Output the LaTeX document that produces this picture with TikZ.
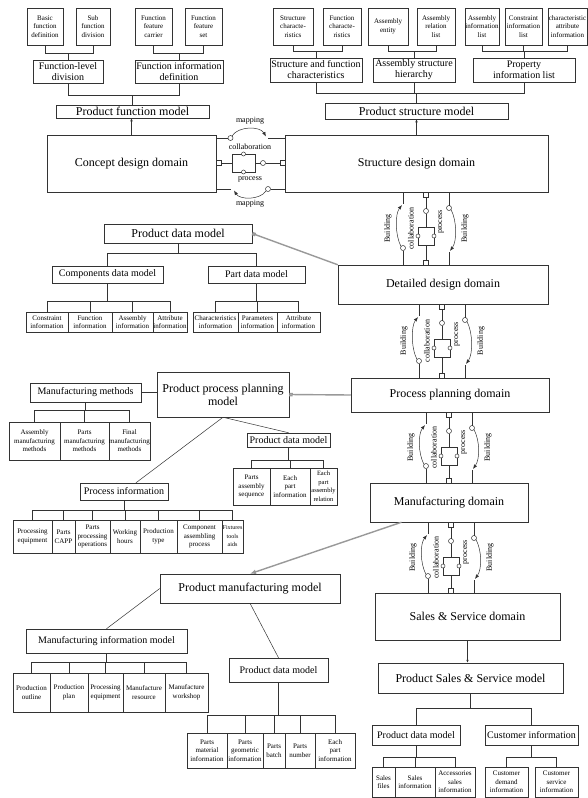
\documentclass[tikz,border=0pt]{standalone}
\usepackage{fontspec}
\setmainfont{Liberation Serif}
\usetikzlibrary{arrows.meta,calc}
\newcommand{\myfs}[2]{\fontsize{#1}{#2}\selectfont}
\tikzset{
 wire/.style={draw=black!80, line width=0.5pt},
 gline/.style={draw=black!40, line width=1.4pt},
 box/.style={draw=black!80, line width=0.5pt, inner sep=0pt, align=center, fill=white},
 leaf/.style={box, font=\myfs{7}{8}},
 leafc/.style={box, font=\myfs{7}{8.5}},
 mid/.style={box, font=\myfs{10}{11}},
 big/.style={box, font=\myfs{12}{13}},
 lbl/.style={inner sep=0pt, font=\myfs{8}{8}},
 tipa/.style={-{Latex[length=4.5pt,width=3.5pt]}},
}
\newcommand{\bx}[7][]{\node[box,#1,minimum width={(#5)-(#3)},minimum height={(#6)-(#4)}] (#2) at ({((#3)+(#5))/2},{((#4)+(#6))/2}) {#7};}
\newcommand{\mytr}[3]{\draw[wire] (#1.south) -- ++(0,#2) -| (#3.north);}
\newcommand{\vlink}[4]{%
 \pgfmathsetmacro{\lkL}{#1-23}%
 \pgfmathsetmacro{\lkR}{#1+23}%
 \pgfmathsetmacro{\lkM}{(#2+#3)/2}%
 \draw[wire] (\lkL,#2) -- (\lkL,{#2+12});
 \draw[wire] (\lkL,#3) -- (\lkL,{#3-14.5});
 \draw[wire] (\lkL,{#3-17}) circle[radius=2.5];
 \draw[wire,tipa] ({\lkL-2},{#3-18.5}) .. controls ({\lkL-8},{#3-30}) and ({\lkL-8},{#2+22}) .. ({\lkL-1},{#2+13});
 \draw[wire] (\lkR,#2) -- (\lkR,{#2+13.5});
 \draw[wire] (\lkR,{#2+16}) circle[radius=2.5];
 \draw[wire,tipa] ({\lkR+2},{#2+17.5}) .. controls ({\lkR+8},{#2+29}) and ({\lkR+8},{#3-24}) .. ({\lkR+1},{#3-14});
 \draw[wire] (\lkR,#3) -- (\lkR,{#3-13});
 \draw[wire] (#1,{#2+5}) -- (#1,{#2+16.5});
 \draw[wire] (#1,{#2+21.5}) -- (#1,{#2+35});
 \draw[wire] (#1,{#2+53}) -- (#1,{#3-5});
 \draw[wire,fill=white] ({#1-2.5},#2) rectangle ({#1+2.5},{#2+5});
 \draw[wire] (#1,{#2+19}) circle[radius=2.5];
 \draw[wire,fill=white] ({#1-8},{#2+35}) rectangle ({#1+8},{#2+53});
 \draw[wire,fill=white] ({#1-8},{#2+44}) circle[radius=2];
 \draw[wire,fill=white] ({#1+8},{#2+44}) circle[radius=2];
 \draw[wire,fill=white] ({#1-2.5},{#3-5}) rectangle ({#1+2.5},#3);
 \node[lbl,rotate=90] (#4b1) at ({\lkL-15},\lkM) {Building};
 \node[lbl,rotate=90] (#4co) at ({#1-15},\lkM) {collaboration};
 \node[lbl,rotate=90] (#4pr) at ({#1+15},{#2+30}) {process};
 \node[lbl,rotate=90] (#4b2) at ({\lkR+16},\lkM) {Building};
}
\begin{document}
\begin{tikzpicture}[x=1pt,y=-1pt]
\fill[white] (0,0) rectangle (588,798);
\useasboundingbox (0,0) rectangle (588,798);
% ---------- top left
\bx[leafc]{bfd}{27}{8}{63}{45}{Basic\\function\\definition}
\bx[leafc]{sfd}{76}{8}{110}{45}{Sub\\function\\division}
\bx[leafc]{ffc}{135}{8}{172}{45}{Function\\feature\\carrier}
\bx[leafc]{ffs}{185}{8}{222}{45}{Function\\feature\\set}
\bx[mid]{fld}{33}{60}{103}{83}{Function-level\\division}
\bx[mid]{fid}{135}{60}{223}{83}{Function information\\definition}
\bx[big]{pfm}{56}{105}{209}{118}{Product function model}
% ---------- top right
\bx[leafc]{sca}{273}{8}{313}{45}{Structure\\characte-\\ristics}
\bx[leafc]{fca}{323}{8}{361}{45}{Function\\characte-\\ristics}
\bx[leafc]{aen}{368}{8}{408}{45}{Assembly\\entity}
\bx[leafc]{arl}{417}{8}{455}{45}{Assembly\\relation\\list}
\bx[leafc]{ail}{465}{8}{499}{45}{Assembly\\information\\list}
\bx[leafc]{cil}{505}{8}{542}{45}{Constraint\\information\\list}
\bx[leafc]{cai}{548}{8}{587}{45}{characteristic\\attribute\\information}
\bx[mid]{sfc}{270}{58}{362}{82}{Structure and function\\characteristics}
\bx[mid]{ash}{373}{58}{455}{82}{Assembly structure\\hierarchy}
\bx[mid]{pil}{473}{58}{575}{82}{Property\\information list}
\bx[big]{psm}{325}{103}{508}{119}{Product structure model}
% ---------- domains
\bx[big]{cdd}{47}{135}{216}{192}{Concept design domain}
\bx[big]{sdd}{285}{135}{548}{192}{Structure design domain}
\bx[big]{ddd}{338}{265}{548}{304}{Detailed design domain}
\bx[big]{ppd}{351}{378}{549}{412}{Process planning domain}
\bx[big]{mfd}{370}{483}{528}{522}{Manufacturing domain}
\bx[big]{ssd}{375}{593}{560}{640}{Sales \& Service domain}
% ---------- product data model (design)
\bx[big]{pdma}{104}{224}{252}{243}{Product data model}
\bx[mid]{cdm}{52}{266}{163}{283}{Components data model}
\bx[mid]{pdmp}{208}{266}{305}{283}{Part data model}
\bx[leaf]{la}{26}{312}{68}{332}{Constraint\\information}
\bx[leaf]{lb}{68}{312}{112}{332}{Function\\information}
\bx[leaf]{lc}{112}{312}{153}{332}{Assembly\\information}
\bx[leaf]{ld}{153}{312}{187}{332}{Attribute\\information}
\bx[leaf]{le}{193}{312}{238}{332}{Characteristics\\information}
\bx[leaf]{lf}{238}{312}{277}{332}{Parameters\\information}
\bx[leaf]{lg}{277}{312}{320}{332}{Attribute\\information}
% ---------- process planning model
\bx[big]{ppm}{157}{372}{289}{417}{Product process planning\\model}
\bx[mid]{mm}{30}{383}{141}{402}{Manufacturing methods}
\bx[leafc]{ma}{9}{422}{60}{460}{Assembly\\manufacturing\\methods}
\bx[leafc]{mb}{60}{422}{109}{460}{Parts\\manufacturing\\methods}
\bx[leafc]{mc}{109}{422}{150}{460}{Final\\manufacturing\\methods}
\bx[mid]{pinf}{80}{483}{168}{500}{Process information}
\bx[leafc]{pa}{13}{520}{52}{553}{Processing\\equipment}
\bx[leafc]{pb}{52}{520}{75}{553}{Parts\\CAPP}
\bx[leafc]{pc}{75}{520}{110}{553}{Parts\\processing\\operations}
\bx[leafc]{pd}{110}{520}{140}{553}{Working\\hours}
\bx[leafc]{pe}{140}{520}{177}{553}{Production\\type}
\bx[leafc]{pf}{177}{520}{222}{553}{Component\\assembling\\process}
\bx[leafc,font=\myfs{6}{8.5}]{pg}{222}{520}{243}{553}{Fixtures\\tools\\aids}
\bx[mid]{pdmb}{247}{433}{330}{447}{Product data model}
\bx[leafc]{da}{233}{468}{270}{505}{Parts\\assembly\\sequence}
\bx[leafc]{db}{270}{468}{310}{505}{Each\\part\\information}
\bx[leafc,font=\myfs{6.5}{8.5}]{dc}{310}{468}{337}{505}{Each\\part\\assembly\\relation}
% ---------- manufacturing model
\bx[big]{pmm}{160}{574}{340}{603}{Product manufacturing model}
\bx[mid]{mim}{26}{629}{187}{653}{Manufacturing information model}
\bx[leafc]{na}{13}{673}{50}{712}{Production\\outline}
\bx[leafc]{nb}{50}{673}{88}{712}{Production\\plan}
\bx[leafc]{nc}{88}{673}{123}{712}{Processing\\equipment}
\bx[leafc]{nd}{123}{673}{165}{712}{Manufacture\\resource}
\bx[leafc]{ne}{165}{673}{208}{712}{Manufacture\\workshop}
\bx[mid]{pdmc}{229}{658}{328}{682}{Product data model}
\bx[leafc]{ea}{187}{733}{227}{768}{Parts\\material\\information}
\bx[leafc]{eb}{227}{733}{263}{768}{Parts\\geometric\\information}
\bx[leafc]{ec}{263}{733}{285}{768}{Parts\\batch}
\bx[leafc]{ed}{285}{733}{315}{768}{Parts\\number}
\bx[leafc]{ee}{315}{733}{355}{768}{Each\\part\\information}
% ---------- sales model
\bx[big]{pssm}{378}{663}{563}{693}{Product Sales \& Service model}
\bx[mid]{pdmd}{372}{725}{460}{745}{Product data model}
\bx[mid]{cinf}{485}{725}{578}{745}{Customer information}
\bx[leafc]{sa}{372}{767}{395}{797}{Sales\\files}
\bx[leafc]{sb}{395}{767}{435}{797}{Sales\\information}
\bx[leafc]{sc}{435}{767}{475}{797}{Accessories\\sales\\information}
\bx[leafc]{ca}{485}{767}{528}{797}{Customer\\demand\\information}
\bx[leafc]{cb}{535}{767}{578}{797}{Customer\\service\\information}
% ---------- trees
\mytr{bfd}{8}{fld} \mytr{sfd}{8}{fld} \mytr{ffc}{8}{fid} \mytr{ffs}{8}{fid}
\mytr{fld}{12}{pfm} \mytr{fid}{12}{pfm}
\mytr{sca}{6}{sfc} \mytr{fca}{6}{sfc} \mytr{aen}{6}{ash} \mytr{arl}{6}{ash}
\mytr{ail}{6}{pil} \mytr{cil}{6}{pil} \mytr{cai}{6}{pil}
\mytr{sfc}{11}{psm} \mytr{ash}{11}{psm} \mytr{pil}{11}{psm}
\mytr{pdma}{10}{cdm} \mytr{pdma}{10}{pdmp}
\foreach \ch in {la,lb,lc,ld} {\mytr{cdm}{18}{\ch}}
\foreach \ch in {le,lf,lg} {\mytr{pdmp}{18}{\ch}}
\foreach \ch in {ma,mb,mc} {\mytr{mm}{8}{\ch}}
\foreach \ch in {pa,pb,pc,pd,pe,pf,pg} {\mytr{pinf}{10}{\ch}}
\foreach \ch in {da,db,dc} {\mytr{pdmb}{13}{\ch}}
\foreach \ch in {na,nb,nc,nd,ne} {\mytr{mim}{9}{\ch}}
\foreach \ch in {ea,eb,ec,ed,ee} {\mytr{pdmc}{33}{\ch}}
\mytr{pssm}{15}{pdmd} \mytr{pssm}{15}{cinf}
\foreach \ch in {sa,sb,sc} {\mytr{pdmd}{12}{\ch}}
\foreach \ch in {ca,cb} {\mytr{cinf}{12}{\ch}}
% ---------- model to domain connectors
\draw[wire,-{Latex[length=3pt,width=2.5pt]}] (cdd.north) -- (cdd.north |- pfm.south);
\draw[wire,-{Latex[length=3pt,width=2.5pt]}] (sdd.north) -- (sdd.north |- psm.south);
\draw[wire,-{Latex[length=3pt,width=2.5pt]}] (ssd.south) -- (ssd.south |- pssm.north);
\draw[gline,-{Square[open,length=3.5pt,width=3.5pt]}] (ddd.north west) -- (pdma.east);
\draw[gline,-{Square[open,length=3.5pt,width=3.5pt]}] (ppd.west) -- (ppm.east);
\draw[gline,-{Latex[length=6pt,width=5pt]}] ($(mfd.south west)!0.2!(mfd.south east)$) -- (pmm.north);
\draw[wire] (mm.east) -- (mm.east -| ppm.west);
\draw[wire] (ppm.south) -- ($(pinf.north)+(12,0)$);
\draw[wire] (ppm.south) -- (pdmb.north);
\draw[wire] (pmm.west) -- (mim.north);
\draw[wire] (pmm.south) -- (pdmc.north);
% ---------- horizontal link concept <-> structure
\draw[wire] (216,138) -- (228,138);
\draw[wire] (230.5,138) circle[radius=2.5];
\draw[wire,tipa] (232,136) .. controls (238,126) and (260,126) .. (266,136.5);
\draw[wire] (268,138) -- (285,138);
\node[lbl] (hmapa) at (250,121) {mapping};
\draw[wire] (221,163) -- (232,163);
\draw[wire] (255,163) -- (260.5,163);
\draw[wire] (265.5,163) -- (280,163);
\draw[wire,fill=white] (216,160.5) rectangle (221,165.5);
\draw[wire,fill=white] (232,154) rectangle (255,172);
\draw[wire,fill=white] (243.5,154) circle[radius=2];
\draw[wire,fill=white] (243.5,172) circle[radius=2];
\draw[wire] (263,163) circle[radius=2.5];
\draw[wire,fill=white] (280,160.5) rectangle (285,165.5);
\node[lbl] (hcol) at (250,146.5) {collaboration};
\node[lbl] (hpro) at (250,179.5) {process};
\draw[wire] (216,189) -- (231,189);
\draw[wire,tipa] (266,191) .. controls (260,200) and (240,200) .. (234,190.5);
\draw[wire] (268,189) circle[radius=2.5];
\draw[wire] (270.5,189) -- (285,189);
\node[lbl] (hmapb) at (250,204) {mapping};
% ---------- vertical links
\vlink{426}{192}{265}{va}
\vlink{442}{304}{378}{vb}
\vlink{449}{412}{483}{vc}
\vlink{451}{522}{593}{vd}
\end{tikzpicture}
\end{document}
